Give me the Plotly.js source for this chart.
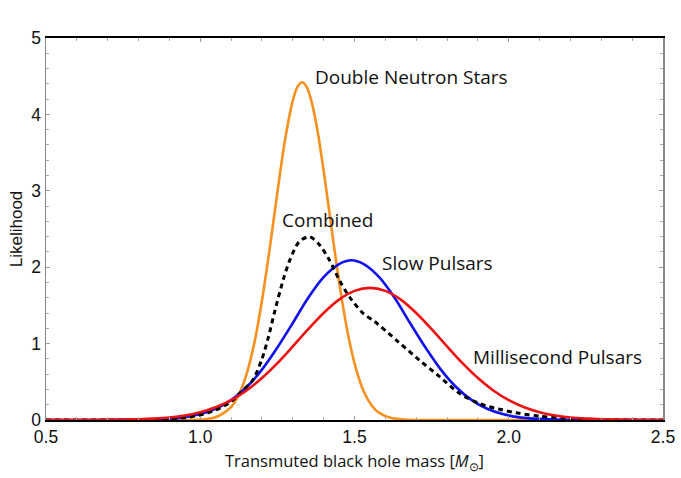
<!DOCTYPE html>
<html>
<head>
<meta charset="utf-8">
<script src="https://cdn.plot.ly/plotly-3.0.1.min.js"></script>
<style>
  html, body { margin: 0; padding: 0; background: #fff; }
  #likelihoodGraph { width: 681px; height: 478px; }
</style>
</head>
<body>
<div id="likelihoodGraph"></div>
<script>
// values
const dnsMass = [0.5, 0.9, 1.0, 1.05, 1.1, 1.125, 1.15, 1.175, 1.2, 1.225, 1.25, 1.275, 1.3, 1.315, 1.33,
  1.345, 1.36, 1.38, 1.405, 1.43, 1.455, 1.48, 1.505, 1.53, 1.555, 1.58, 1.62, 1.67, 1.75, 2.5];
const dnsLike = [0, 0, 0.005, 0.035, 0.168, 0.33, 0.598, 1.0, 1.56, 2.24, 2.98, 3.67, 4.18, 4.36, 4.42,
  4.36, 4.18, 3.79, 3.12, 2.38, 1.68, 1.1, 0.67, 0.374, 0.194, 0.093, 0.025, 0.004, 0, 0];

const slowMass = [0.5, 0.6, 0.7, 0.8, 0.85, 0.9, 0.95, 1.0, 1.05, 1.1, 1.15, 1.2, 1.25, 1.3, 1.35,
  1.4, 1.45, 1.49, 1.53, 1.58, 1.63, 1.68, 1.73, 1.78, 1.83, 1.88, 1.93, 1.98, 2.03, 2.08, 2.15, 2.25, 2.5];
const slowLike = [0, 0, 0.0004, 0.003, 0.008, 0.018, 0.038, 0.078, 0.147, 0.26, 0.429, 0.66, 0.949, 1.27, 1.6,
  1.87, 2.04, 2.09, 2.04, 1.87, 1.6, 1.27, 0.949, 0.66, 0.429, 0.26, 0.147, 0.078, 0.038, 0.018, 0.005, 0.0008, 0];

const msMass = [0.5, 0.6, 0.65, 0.75, 0.8, 0.85, 0.9, 0.95, 1.0, 1.05, 1.1, 1.15, 1.2, 1.25, 1.3, 1.35,
  1.4, 1.45, 1.5, 1.55, 1.6, 1.65, 1.7, 1.75, 1.8, 1.85, 1.9, 1.95, 2.0, 2.05, 2.1, 2.15, 2.2, 2.25,
  2.3, 2.35, 2.45, 2.5];
const msLike = [0, 0.0004, 0.0009, 0.0043, 0.0089, 0.0175, 0.033, 0.0593, 0.1016, 0.166, 0.259, 0.386,
  0.549, 0.744, 0.963, 1.189, 1.401, 1.576, 1.69, 1.73, 1.69, 1.576, 1.401, 1.189, 0.963, 0.744, 0.549,
  0.386, 0.259, 0.166, 0.1016, 0.0593, 0.033, 0.0175, 0.0089, 0.0043, 0.0009, 0.0004];

const combMass = [0.5, 0.7, 0.8, 0.9, 0.95, 1.0, 1.05, 1.1, 1.13, 1.17, 1.2, 1.22, 1.24, 1.27, 1.29, 1.32,
  1.354, 1.387, 1.419, 1.451, 1.484, 1.527, 1.565, 1.64, 1.71, 1.775, 1.84, 1.905, 1.97, 2.034, 2.1,
  2.2, 2.3, 2.5];
const combLike = [0, 0.0005, 0.003, 0.015, 0.03, 0.065, 0.13, 0.24, 0.36, 0.52, 0.8, 1.07, 1.4, 1.85, 2.09, 2.33,
  2.4, 2.29, 2.09, 1.83, 1.61, 1.4, 1.29, 1.03, 0.785, 0.57, 0.35, 0.215, 0.14, 0.087, 0.05,
  0.02, 0.005, 0];

const labelText = ['Double Neutron Stars', 'Combined', 'Slow Pulsars', 'Millisecond Pulsars'];
const labelMass = [1.364, 1.257, 1.584, 1.879];
const labelLike = [4.49, 2.62, 2.05, 0.825];

const orangeColor = '#f7901e';
const blueColor = '#1010f0';
const redColor = '#ee1111';
const labelFont = 'Open Sans, sans-serif';
const tickFont = 'Liberation Sans, Arial, sans-serif';

const makeLine = (x, y, color, dash) => ({
  x: x,
  y: y,
  type: 'scatter',
  mode: 'lines',
  line: {
    color: color,
    width: dash ? 3 : 2.6,
    dash: dash || 'solid',
    shape: 'spline',
    smoothing: 0.8
  },
  hoverinfo: 'skip'
});

const makeGraph = () => {
  const traces = [
    makeLine(dnsMass, dnsLike, orangeColor),
    makeLine(slowMass, slowLike, blueColor),
    makeLine(combMass, combLike, '#000', '5px,4px'),
    makeLine(msMass, msLike, redColor)
  ];

  const annotations = labelText.map((t, i) => ({
    x: labelMass[i],
    y: labelLike[i],
    text: t,
    showarrow: false,
    xanchor: 'left',
    yanchor: 'middle',
    font: { family: labelFont, size: 19, color: '#111' }
  }));

  Plotly.newPlot('likelihoodGraph', traces, {
    width: 681,
    height: 478,
    showlegend: false,
    paper_bgcolor: '#fff',
    plot_bgcolor: '#fff',
    margin: { t: 38, l: 46, r: 18, b: 58 },
    annotations: annotations,
    xaxis: {
      range: [0.5, 2.5],
      tickmode: 'linear',
      tick0: 0.5,
      dtick: 0.5,
      tickformat: '.1f',
      showgrid: false,
      zeroline: false,
      showline: true,
      linecolor: '#000',
      linewidth: 1.8,
      mirror: 'ticks',
      ticks: 'inside',
      ticklen: 4,
      tickcolor: '#999',
      minor: { dtick: 0.1, ticks: 'inside', ticklen: 3, tickcolor: '#aaa', showgrid: false },
      tickfont: { family: tickFont, size: 17.5, color: '#111' },
      title: {
        text: 'Transmuted black hole mass [<i>M</i><sub>⊙</sub>]',
        font: { family: labelFont, size: 16.5, color: '#111' },
        standoff: 10
      }
    },
    yaxis: {
      range: [0, 5],
      tickmode: 'linear',
      tick0: 0,
      dtick: 1,
      showgrid: false,
      zeroline: false,
      showline: true,
      linecolor: '#888',
      linewidth: 1.5,
      mirror: 'ticks',
      ticks: 'inside',
      ticklen: 4,
      tickcolor: '#999',
      minor: { dtick: 0.2, ticks: 'inside', ticklen: 3, tickcolor: '#aaa', showgrid: false },
      tickfont: { family: tickFont, size: 17.5, color: '#111' },
      title: {
        text: 'Likelihood',
        font: { family: tickFont, size: 17, color: '#111' },
        standoff: 4
      }
    }
  }, { displayModeBar: false, staticPlot: true });
};

makeGraph();
</script>
</body>
</html>
